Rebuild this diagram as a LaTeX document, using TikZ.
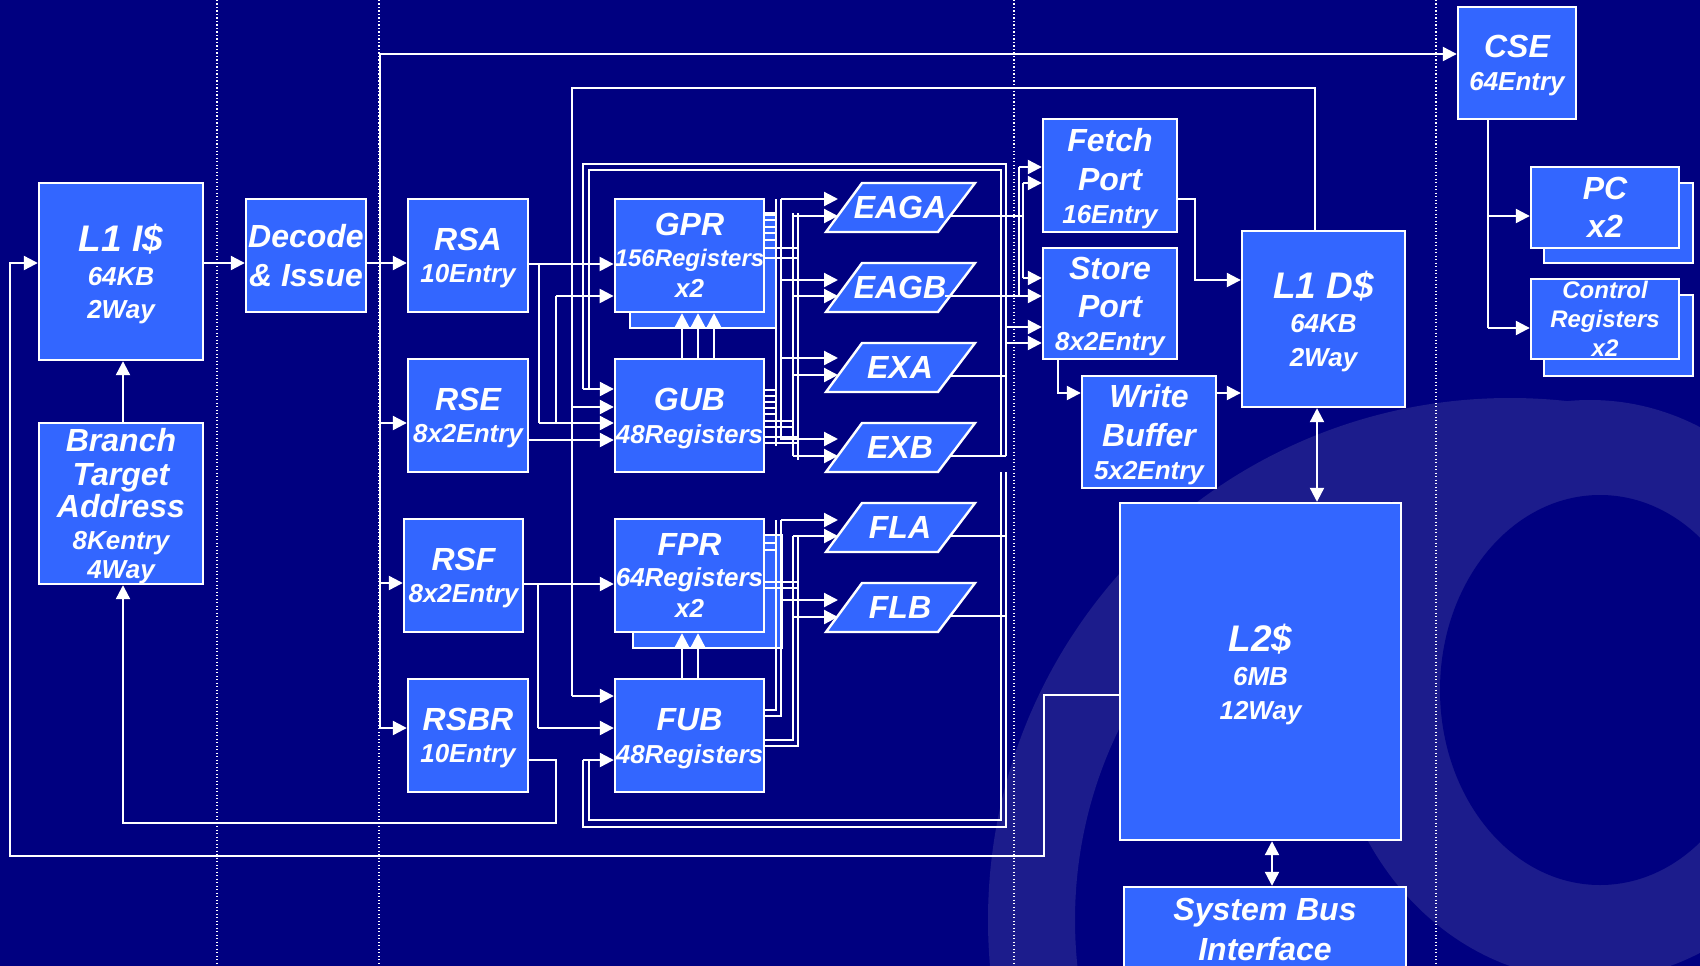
\documentclass[tikz,border=0pt]{standalone}
\usepackage{fontspec}
\setmainfont{Liberation Sans}
\usetikzlibrary{arrows.meta}
\definecolor{bg}{HTML}{000080}
\definecolor{boxblue}{HTML}{3366FF}
\definecolor{ringc}{HTML}{1C1C8C}
\newcommand\hugetxt{\fontsize{37}{40}\selectfont}
\newcommand\bigtxt{\fontsize{32}{36}\selectfont}
\newcommand\para[3]{%
  \draw[parashape] (826,#2+24.5) -- (862,#2-24.5) -- (975,#2-24.5) -- (938,#2+24.5) -- cycle;
  \node[ptext] (#1) at (900,#2) {#3};}
\begin{document}
\begin{tikzpicture}[x=1pt,y=-1pt,
  box/.style={draw=white, line width=2.4pt, fill=boxblue, inner sep=0pt, text=white, align=center},
  bs/.style={font=\bfseries\itshape\fontsize{26}{#1}\selectfont},
  td/.style={text depth=#1},
  shadowbox/.style={draw=white, line width=2.4pt, fill=boxblue},
  wire/.style={draw=white, line width=2.2pt},
  thinwire/.style={draw=white, line width=1.8pt},
  arr/.style={wire, -{Triangle[length=14pt,width=14pt]}},
  dbl/.style={wire, {Triangle[length=14pt,width=14pt]}-{Triangle[length=14pt,width=14pt]}},
  dots/.style={draw=white, line width=1.3pt, dash pattern=on 1.3pt off 2.2pt},
  parashape/.style={draw=white, line width=2.4pt, fill=boxblue},
  ptext/.style={text=white, font=\bfseries\itshape\fontsize{32}{36}\selectfont, inner sep=0pt},
]
\fill[bg] (0,0) rectangle (1700,966);
\useasboundingbox (0,0) rectangle (1700,966);
% decorative ring (background swirl)
\begin{scope}
\clip (0,0) rectangle (1700,966);
\fill[ringc, even odd rule] (1510,920) circle (522) (1510,920) circle (435);
\fill[ringc] (1590,690) ellipse (260 and 290);
\fill[bg] (1600,690) ellipse (160 and 195);
\end{scope}
% dotted separators
\foreach \x in {217,379,1014,1436} \draw[dots] (\x,0) -- (\x,966);

% shadows
\draw[shadowbox] (630,215) rectangle (776,328);
\draw[shadowbox] (633,535) rectangle (782,648);
\draw[shadowbox] (1544,183) rectangle (1693,263);
\draw[shadowbox] (1544,295) rectangle (1693,376);

% boxes
\node[box, bs=33.5, td=-7pt, minimum width=164, minimum height=177] (l1i) at (121,271.5) {{\hugetxt L1 I\$}\\64KB\\2Way};
\node[box, font=\bfseries\itshape\fontsize{32}{39}\selectfont, minimum width=120, minimum height=113] (dec) at (306,255.5) {Decode\\\& Issue};
\node[box, bs=32, td=0pt, minimum width=164, minimum height=161] (bta) at (121,503.5) {{\bigtxt Branch}\\[2pt]{\bigtxt Target}\\{\bigtxt Address}\\8Kentry\\[-3pt]4Way};
\node[box, bs=32.5, td=-8.5pt, minimum width=120, minimum height=113] (rsa) at (468,255.5) {{\bigtxt RSA}\\10Entry};
\node[box, bs=32.5, td=-8.5pt, minimum width=120, minimum height=113] (rse) at (468,415.5) {{\bigtxt RSE}\\8x2Entry};
\node[box, bs=32.5, td=-8.5pt, minimum width=119, minimum height=113] (rsf) at (463.5,575.5) {{\bigtxt RSF}\\8x2Entry};
\node[box, bs=32.5, td=-8.5pt, minimum width=120, minimum height=113] (rsbr) at (468,735.5) {{\bigtxt RSBR}\\10Entry};
\node[box, bs=31, td=-3pt, minimum width=149, minimum height=113] (gpr) at (689.5,255.5) {{\bigtxt GPR}\\{\fontsize{24}{29}\selectfont 156Registers}\\x2};
\node[box, bs=33, td=-7pt, minimum width=149, minimum height=113] (gub) at (689.5,415.5) {{\bigtxt GUB}\\48Registers};
\node[box, bs=31, td=-3pt, minimum width=149, minimum height=113] (fpr) at (689.5,575.5) {{\bigtxt FPR}\\64Registers\\x2};
\node[box, bs=33, td=-8.5pt, minimum width=149, minimum height=113] (fub) at (689.5,735.5) {{\bigtxt FUB}\\48Registers};
\node[box, bs=33, td=-6.5pt, minimum width=134, minimum height=113] (fetch) at (1110,175.5) {{\bigtxt Fetch}\\[6pt]{\bigtxt Port}\\16Entry};
\node[box, bs=33, td=-5.5pt, minimum width=134, minimum height=111] (store) at (1110,303.5) {{\bigtxt Store}\\[5pt]{\bigtxt Port}\\8x2Entry};
\node[box, bs=33, td=-3.5pt, minimum width=134, minimum height=112] (wb) at (1149,432) {{\bigtxt Write}\\[6pt]{\bigtxt Buffer}\\5x2Entry};
\node[box, bs=34, td=-7pt, minimum width=163, minimum height=176] (l1d) at (1323.5,319) {{\hugetxt L1 D\$}\\64KB\\2Way};
\node[box, bs=33, td=-10pt, minimum width=118, minimum height=112] (cse) at (1517,63) {{\bigtxt CSE}\\64Entry};
\node[box, font=\bfseries\itshape\fontsize{32}{38}\selectfont, minimum width=148, minimum height=81] (pc) at (1605,207.5) {PC\\x2};
\node[box, font=\bfseries\itshape\fontsize{24}{29}\selectfont, minimum width=148, minimum height=80] (ctl) at (1605,319) {Control\\Registers\\x2};
\node[box, bs=34, td=-7pt, minimum width=281, minimum height=337] (l2) at (1260.5,671.5) {{\hugetxt L2\$}\\6MB\\12Way};
\node[box, font=\bfseries\itshape\fontsize{32}{40}\selectfont, minimum width=282, minimum height=84] (sbi) at (1265,929) {System Bus\\Interface};

% execution units
\para{eaga}{207.5}{EAGA}
\para{eagb}{287.5}{EAGB}
\para{exa}{367.5}{EXA}
\para{exb}{447.5}{EXB}
\para{fla}{527.5}{FLA}
\para{flb}{607.5}{FLB}

% front end
\draw[arr] (l1i.east |- 0,263) -- (dec.west |- 0,263);
\draw[arr] (bta.north -| 123,0) -- (l1i.south -| 123,0);
\draw[arr] (l2.west |- 0,695) -- (1044,695) -- (1044,856) -- (10,856) -- (10,263) -- (l1i.west |- 0,263);
\draw[arr] (rsbr.east |- 0,760) -- (556,760) -- (556,823) -- (123,823) -- (bta.south -| 123,0);

% decode bus
\draw[wire] (380,728) -- (380,54);
\draw[arr] (dec.east |- 0,263) -- (rsa.west |- 0,263);
\draw[arr] (380,54) -- (cse.west |- 0,54);
\draw[arr] (380,423) -- (rse.west |- 0,423);
\draw[arr] (380,583) -- (rsf.west |- 0,583);
\draw[arr] (380,728) -- (rsbr.west |- 0,728);

% reservation stations to register files
\draw[arr] (rsa.east |- 0,264) -- (gpr.west |- 0,264);
\draw[wire] (539,264) -- (539,423);
\draw[arr] (539,423) -- (gub.west |- 0,423);
\draw[wire] (556,423) -- (556,296);
\draw[arr] (556,296) -- (gpr.west |- 0,296);
\draw[arr] (rse.east |- 0,440) -- (gub.west |- 0,440);
\draw[arr] (rsf.east |- 0,584) -- (fpr.west |- 0,584);
\draw[wire] (538,584) -- (538,728);
\draw[arr] (538,728) -- (fub.west |- 0,728);

% L1 D$ load return
\draw[wire] (l1d.north -| 1315,0) -- (1315,88) -- (572,88) -- (572,696);
\draw[arr] (572,696) -- (fub.west |- 0,696);
\draw[arr] (572,407) -- (gub.west |- 0,407);

% update buffers to register files
\foreach \x in {682,698,714} \draw[arr] (gub.north -| \x,0) -- (gpr.south -| \x,0);
\foreach \x in {682,698} \draw[arr] (fub.north -| \x,0) -- (fpr.south -| \x,0);

% result loops
\draw[wire] (1006,456) -- (1006,164) -- (583,164) -- (583,389);
\draw[wire] (1001,456) -- (1001,170) -- (589,170) -- (589,389);
\draw[arr] (583,389) -- (gub.west |- 0,389);
\draw[wire] (1001,472) -- (1001,820) -- (589,820) -- (589,760);
\draw[wire] (1006,472) -- (1006,827) -- (583,827) -- (583,760);
\draw[arr] (583,760) -- (fub.west |- 0,760);

% operand buses
\draw[wire] (776,199) -- (776,446);
\draw[wire] (781,199) -- (781,440);
\draw[wire] (793,213) -- (793,456);
\draw[wire] (798,213) -- (798,460);
\draw[wire] (776,520) -- (776,710);
\draw[wire] (781,520) -- (781,716);
\draw[wire] (793,536) -- (793,740);
\draw[wire] (798,536) -- (798,746);
\foreach \y in {213,220,227,233,240} \draw[thinwire] (gpr.east |- 0,\y) -- (777,\y);
\foreach \y in {248,258} \draw[thinwire] (gpr.east |- 0,\y) -- (799,\y);
\foreach \y in {390,396,402,408,414} \draw[thinwire] (gub.east |- 0,\y) -- (777,\y);
\foreach \y in {421,427} \draw[thinwire] (gub.east |- 0,\y) -- (794,\y);
\foreach \y in {437,443} \draw[thinwire] (gub.east |- 0,\y) -- (799,\y);
\foreach \y in {543,550} \draw[thinwire] (fpr.east |- 0,\y) -- (777,\y);
\foreach \y in {582,588} \draw[thinwire] (fpr.east |- 0,\y) -- (799,\y);
\draw[thinwire] (fub.east |- 0,710) -- (777,710);
\draw[thinwire] (fub.east |- 0,716) -- (782,716);
\draw[thinwire] (fub.east |- 0,740) -- (794,740);
\draw[thinwire] (fub.east |- 0,746) -- (799,746);
\foreach \y in {199,280,358,439,520,600} \draw[arr] (781,\y) -- (838,\y);
\foreach \y in {216,296,375,456,536,617} \draw[arr] (793,\y) -- (838,\y);

% unit outputs
\draw[wire] (950,216) -- (1023,216);
\draw[wire] (1019,167) -- (1019,296);
\draw[wire] (1023,183) -- (1023,278);
\draw[arr] (1019,167) -- (fetch.west |- 0,167);
\draw[arr] (1023,183) -- (fetch.west |- 0,183);
\draw[arr] (1023,278) -- (store.west |- 0,278);
\draw[arr] (945,296) -- (store.west |- 0,296);
\draw[arr] (1006,327) -- (store.west |- 0,327);
\draw[arr] (1006,343) -- (store.west |- 0,343);
\draw[wire] (950,376) -- (1006,376);
\draw[wire] (950,456) -- (1006,456);
\draw[wire] (950,536) -- (1006,536);
\draw[wire] (950,616) -- (1006,616);

% memory side
\draw[arr] (fetch.east |- 0,199) -- (1195,199) -- (1195,280) -- (l1d.west |- 0,280);
\draw[arr] (store.south -| 1058,0) -- (1058,393) -- (wb.west |- 0,393);
\draw[arr] (wb.east |- 0,393) -- (l1d.west |- 0,393);
\draw[dbl] (l1d.south -| 1317,0) -- (l2.north -| 1317,0);
\draw[dbl] (l2.south -| 1272,0) -- (sbi.north -| 1272,0);
\draw[wire] (cse.south -| 1488,0) -- (1488,328);
\draw[arr] (1488,216) -- (pc.west |- 0,216);
\draw[arr] (1488,328) -- (ctl.west |- 0,328);
\end{tikzpicture}
\end{document}
